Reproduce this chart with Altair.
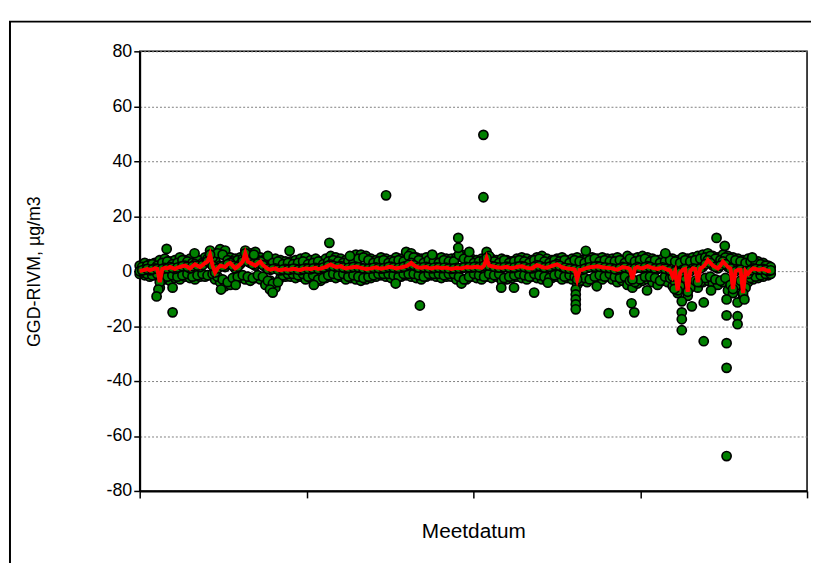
import altair as alt
import pandas as pd

# ---- data (values in µg/m3; x = day index) ----
# red line (daily central value), at whole steps and at half steps
red = [0, 0.5, 0.3, 1, -4, 1.2, 1.5, 0.8, 1.5, 2, 1, 2.5, 1.5, 3, 6, -0.5, 2, 1.5, 3, 1, 2.5, 6.5, 3, 2, 3.5, 1.5, 0.5, 1, 0.3, 0.8,
       0.6, 0.8, 0.4, 1, 0.7, 1.2, 0.9, 1.5, 2.4, 1.5, 1.8, 1, 1.3, 1.6, 1.2, 0.8, 1, 1.4, 0.9, 1.2, 1.6, 1, 1.3, 1.8, 3, 1.6, 1.2, 1.5, 1, 1.4, 1.1, 1.3,
       0.8, 1.2, 1, 1.5, 1.3, 1.6, 1.2, 4.8, 1.8, 1.4, 1.2, 1.6, 1.1, 1.5, 1.8, 1.2, 1, 2.2, 1.5, 1.2, 1.9, 2.5, 1.4, 1, 0.8, -3, 0.5, 1.2, 1.5, 1.8, 1.4, 1.2,
       1, 0.5, 1.5, 1.2, -3, 1.5, 1, 1.8, 1.2, 0.8, 1.4, 0.5, -2, -7, 0.5, -7.5, 1, -4, 1.5, 4, 2, 1, 3.5, 1.5, -6.5, 0.5, -8, -1, 1, 0.5, 0.8, 0]
red_h = [0.3, 0.8, 0.6, 0.8, 0.8, 1, 1.2, 1.3, 1.8, 1.6, 1.8, 2, 2.2, 3.5, 2, 1, 1.8, 2.5, 2, 1.6, 3.5, 3.5, 2.5, 2.8, 2.2, 0.8, 0.8, 0.5, 0.6, 0.5,
         0.9, 0.5, 0.8, 0.9, 1, 0.8, 1.3, 2, 1.9, 1.6, 1.3, 1.2, 1.5, 1.4, 1, 0.9, 1.2, 1.1, 1.1, 1.5, 1.3, 1.2, 1.6, 2.3, 2.2, 1.3, 1.4, 1.2, 1.2, 1.3, 1.2, 1,
         1, 1.1, 1.3, 1.4, 1.5, 1.4, 2, 2, 1.6, 1.3, 1.4, 1.3, 1.3, 1.7, 1.5, 1.1, 1.6, 1.9, 1.3, 1.6, 2.2, 2, 1.2, 0.9, 0.6, 0.4, 0.9, 1.4, 1.6, 1.6, 1.3, 1.1,
         0.7, 1, 1.3, 0.8, 1, 1.2, 1.4, 1.5, 1, 1.1, 0.9, 0.3, 0, -0.5, 0.8, 0, 0.8, 1, 2.5, 3, 1.5, 2, 2.5, 1, 0, 0.5, 0, 0.3, 0.8, 0.6, 0.4, 0.3]

# green station points forming the dense band
upper = [2, 3, 2.5, 3, 4, 4.5, 3.5, 4, 5, 4, 4.5, 3.5, 4, 5, 7.5, 4, 8, 7.5, 5, 4.5, 5, 7.5, 6.5, 7, 5, 4.5, 4, 4.5, 4, 3.5,
         3.5, 4, 4.5, 5, 4, 4.5, 3.5, 4.5, 5.5, 5, 4.5, 4, 4.5, 6, 6, 5.5, 4.5, 4, 5, 4.5, 4, 5, 4.5, 7, 6.5, 5, 4.5, 5, 4, 4.5, 5, 4.5,
         4.5, 5, 6, 5, 4.5, 4, 4.5, 7, 4.5, 4, 4.5, 4, 3.5, 4.5, 5, 4.5, 4, 5, 5.5, 4.5, 4, 4.5, 5, 4, 4.5, 5, 4, 4.5, 5, 4.5, 5, 4.5,
         4.5, 5, 4, 5.5, 4.5, 5, 5.5, 5, 4.5, 4, 4.5, 5, 4.5, 4, 5, 4.5, 5, 5.5, 6, 6.5, 5.5, 5, 6, 5.5, 5, 4.5, 4, 4.5, 4, 3.5, 3, 2]
upper_h = [1.5, 2, 2.5, 2, 3, 3.5, 2.5, 3, 4, 3.5, 3, 4, 3, 4.5, 5, 6.5, 6, 4, 3.5, 4, 4.5, 6, 5, 4, 3.5, 5.5, 3, 3.5, 2.5, 3,
           2.5, 3, 3.5, 2.5, 3, 3.5, 2.5, 3.5, 4, 3.5, 3, 3.5, 3, 4.5, 5, 4, 3, 3.5, 4, 3, 3.5, 4, 3.5, 5.5, 5, 4, 3, 4, 3.5, 3, 4, 3.5,
           3.5, 6, 4.5, 4, 3, 3.5, 4, 5.5, 3.5, 3, 4, 3, 3.5, 4, 3.5, 3, 4, 4.5, 3.5, 3, 4, 3.5, 4, 3, 4, 3.5, 3, 4, 4.5, 3.5, 4, 3.5,
           3.5, 4, 3, 4.5, 3.5, 4, 4.5, 3.5, 4, 3, 3.5, 4, 3.5, 3, 4, 3.5, 4, 4.5, 5, 5.5, 4.5, 4, 5, 4.5, 4, 3.5, 3, 3.5, 3, 2.5, 2, 1.5]
lower = [-1, -1.5, -2, -1.5, -6, -3, -3.5, -2.5, -3, -2, -2.5, -3, -2, -2, -1.5, -3, -4, -5.5, -5, -3, -2.5, -3, -3.5, -2.5, -3, -5, -3.5, -6, -2.5, -2,
         -2, -2.5, -2, -3, -2.5, -4, -3.5, -2.5, -2, -2.5, -2, -3, -2.5, -3, -3.5, -3, -2.5, -2, -1.5, -2, -2.5, -3, -2, -1.5, -2, -2.5, -3, -2, -1.5, -2, -2.5, -2,
         -2, -3, -4.5, -3, -2, -2.5, -3, -2, -2.5, -2, -3.5, -3, -2.5, -2, -2.5, -3, -2, -2.5, -3, -3.5, -2.5, -2, -3, -2.5, -3, -5, -3.5, -4, -3, -2.5, -3, -2,
         -3, -4, -3.5, -5, -6, -4.5, -3.5, -3, -4, -5, -3.5, -4, -5.5, -8, -4, -9, -5, -6, -4, -3.5, -4.5, -5, -4, -7, -8, -5, -9, -4, -3, -2.5, -2, -1.5]
lower_h = [-0.5, -1, -1.5, -1, -3, -2, -1.5, -2, -1.5, -1, -2, -1.5, -1, -1.5, -1, -2, -3, -4, -2.5, -2, -1.5, -2, -2.5, -1.5, -2, -3.5, -4.5, -4, -1.5, -1,
           -1, -1.5, -1, -2, -1.5, -3, -2.5, -1.5, -1, -1.5, -1, -2, -1.5, -2, -2.5, -2, -1.5, -1, -1, -1, -1.5, -2, -1, -1, -1, -1.5, -2, -1, -1, -1, -1.5, -1,
           -1, -2, -3, -2, -1, -1.5, -2, -1, -1.5, -1, -2.5, -2, -1.5, -1, -1.5, -2, -1, -1.5, -2, -2.5, -1.5, -1, -2, -1.5, -2, -3.5, -2.5, -3, -2, -1.5, -2, -1,
           -2, -2.5, -2, -3.5, -4, -3, -2, -2, -2.5, -3.5, -2, -2.5, -4, -5.5, -2.5, -6, -3.5, -4, -2.5, -2, -3, -3.5, -2.5, -5, -5.5, -3.5, -6, -2.5, -2, -1.5, -1, -1]

day_step = 11

# scattered single points (day, value)
out_day = [59, 41, 37, 72, 72, 178, 285, 291, 328, 415, 381, 539, 613, 697, 697, 721, 752, 752,
           791, 819, 863, 893, 954, 954, 954, 954, 954, 976, 1026, 1076, 1082, 1186, 1186, 1186, 1186,
           1208, 1234, 1234, 1262, 1280, 1284, 1284, 1284, 1284, 1284, 1308, 1308, 1308, 1323,
           120, 210, 250, 460, 560, 640, 1000, 1110, 1150, 1170, 1250, 1340]
out_val = [8.1, -6.7, -9.2, -6, -15, -6.7, -6.7, -7.8, 7.4, 10.3, -5, 27.6, -12.5, 12.1, 8.5, 7, 49.6, 26.9,
           -6, -6, -7.8, -4.2, -6.7, -8.5, -10.3, -12.1, -13.9, 7.4, -15.3, -11.7, -15, -11, -15, -17.5, -21.5,
           -12.8, -11.4, -25.5, 12.1, 9.2, -10.3, -16.1, -26.2, -35.2, -67.3, -11.4, -16.4, -19.3, -10.3,
           6.5, -5, 6, 5.5, -4.5, 6, -5.5, -7, 6.5, -6.5, -7, 5]

y_ticks = [-80, -60, -40, -20, 0, 20, 40, 60, 80]
x_ticks = [0, 365, 730, 1095, 1460]

days = [i * day_step for i in range(len(red))]
days_h = [i * day_step + day_step / 2 for i in range(len(red_h))]

dots = pd.DataFrame({
    "day": days + days_h + days + days_h + days + days_h + out_day,
    "val": upper + upper_h + lower + lower_h + red + red_h + out_val,
})
line_df = pd.DataFrame({"day": days + days_h, "val": red + red_h}).sort_values("day")

FONT = "Liberation Sans"

x_enc = alt.X("day:Q", scale=alt.Scale(domain=[0, 1460], nice=False, zero=False),
              axis=alt.Axis(values=x_ticks, labels=False, grid=False, title="Meetdatum",
                            tickSize=7, titleY=41, titleBaseline="middle", titleFontSize=21))
y_enc = alt.Y("val:Q", scale=alt.Scale(domain=[-80, 80], nice=False),
              axis=alt.Axis(values=y_ticks, grid=True, gridDash=[2, 2], gridColor="#808080",
                            gridWidth=1, title="GGD-RIVM, µg/m3", tickSize=6, labelPadding=2,
                            labelExpr="datum.value + ''", labelFontSize=18,
                            titleX=-106, titleY=222, titleAngle=270, titleBaseline="middle",
                            titleFontSize=18))

frame = alt.Chart(pd.DataFrame({"k": [0]})).mark_rect(
    fill="white", fillOpacity=0, stroke="black", strokeWidth=2
).encode(x=alt.value(-131), x2=alt.value(720), y=alt.value(-30), y2=alt.value(620))

pts = alt.Chart(dots).mark_circle(
    size=85, fill="#008000", stroke="black", strokeWidth=1.7, opacity=1
).encode(x=x_enc, y=y_enc)

line = alt.Chart(line_df).mark_line(color="#ff0000", strokeWidth=4).encode(
    x="day:Q", y="val:Q", order="day:Q")

chart = alt.layer(frame, pts, line).properties(
    width=674, height=444,
    autosize=alt.AutoSizeParams(type="none"),
    padding={"left": 133, "top": 41, "right": 4, "bottom": 70},
).configure_view(stroke="black", strokeWidth=1.5).configure_axis(
    labelFont=FONT, labelColor="black",
    titleFont=FONT, titleFontWeight="normal", titleColor="black",
    domainColor="black", domainWidth=2, tickColor="black", tickWidth=1.5,
)

chart.save("out.html", embed_options={"renderer": "svg", "actions": False})
